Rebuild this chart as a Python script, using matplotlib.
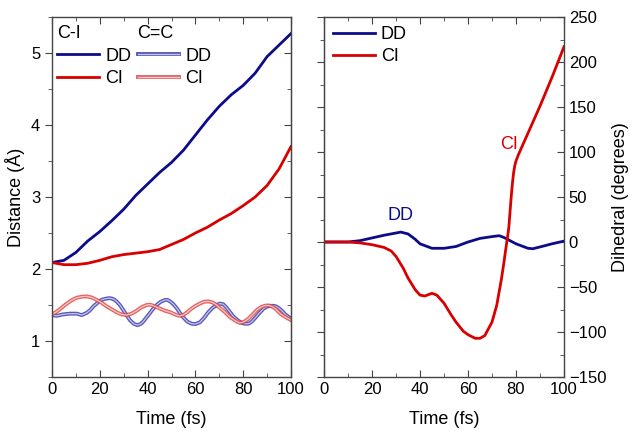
import matplotlib
matplotlib.use("Agg")
import matplotlib.pyplot as plt
import matplotlib.patheffects as pe
from matplotlib.ticker import MultipleLocator

plt.rcParams["font.family"] = ["Liberation Sans", "DejaVu Sans"]

NAVY = "#0c0c8a"
RED = "#d80000"
BLUE_CC = "#3c3cae"
RED_CC = "#e04848"

# C-I distance (Angstrom) vs time (fs)
t_ci = [0, 5, 10, 15, 20, 25, 30, 35, 40, 45, 50, 55, 60, 65, 70, 75, 80, 85, 90, 95, 100]
dd_ci = [2.09, 2.12, 2.23, 2.39, 2.52, 2.67, 2.83, 3.02, 3.18, 3.34, 3.48,
         3.65, 3.86, 4.07, 4.26, 4.42, 4.55, 4.72, 4.95, 5.11, 5.27]
ci_ci = [2.09, 2.06, 2.06, 2.08, 2.12, 2.17, 2.20, 2.22, 2.24, 2.27, 2.34,
         2.41, 2.50, 2.58, 2.68, 2.77, 2.88, 3.00, 3.16, 3.39, 3.70]

# C=C distance, DD trajectory
t_cc_dd = [0, 2, 4.7, 7.5, 10.3, 12.4, 14.5, 16, 17.3, 18.7, 20, 21.5, 22.9, 24,
           25, 26, 27, 28.4, 29.8, 31.2, 32.6, 34.2, 35.7, 37, 38.2, 39.6, 41,
           42.4, 43.8, 45.5, 47.3, 48.4, 49.4, 50.8, 52.1, 53.5, 54.9, 56.6, 58.4,
           60, 61.9, 63.6, 65.4, 67.2, 68.9, 70.3, 71.7, 73.1, 74.5, 75.9, 77.6,
           79.4, 80.8, 82.2, 83.6, 85, 86.8, 88.5, 90.2, 92, 93.4, 94.8, 96.2,
           97.6, 100]
cc_dd = [1.36, 1.35, 1.37, 1.38, 1.38, 1.36, 1.39, 1.43, 1.48, 1.52, 1.56, 1.58,
         1.59, 1.595, 1.59, 1.575, 1.55, 1.50, 1.43, 1.36, 1.29, 1.24, 1.22, 1.235,
         1.27, 1.33, 1.39, 1.45, 1.50, 1.545, 1.57, 1.57, 1.55, 1.51, 1.46, 1.39,
         1.33, 1.27, 1.24, 1.235, 1.26, 1.32, 1.40, 1.46, 1.50, 1.52, 1.51, 1.46,
         1.40, 1.34, 1.29, 1.25, 1.24, 1.24, 1.27, 1.32, 1.39, 1.45, 1.48, 1.49,
         1.485, 1.46, 1.42, 1.37, 1.31]

# C=C distance, CI trajectory
t_cc_ci = [0, 1.6, 3.3, 5.4, 7.5, 9, 10.3, 12.4, 14.5, 16.6, 18.7, 20.8, 22.9,
           25, 27, 29, 31.2, 33.3, 35.4, 37.5, 39.6, 41, 42.4, 45.2, 47.3, 49.4,
           52.1, 53.5, 54.9, 56.6, 58.4, 60.2, 61.9, 63.6, 65.4, 67.2, 68.9, 70.6,
           72.4, 74.2, 75.9, 77.3, 78.7, 80.5, 82.2, 84, 85.7, 87.4, 89.1, 90.5,
           92, 93.8, 95.5, 97.8, 100]
cc_ci = [1.37, 1.40, 1.44, 1.50, 1.55, 1.58, 1.60, 1.615, 1.62, 1.605, 1.57,
         1.53, 1.48, 1.44, 1.40, 1.37, 1.36, 1.38, 1.42, 1.47, 1.50, 1.505, 1.49,
         1.45, 1.42, 1.40, 1.36, 1.35, 1.36, 1.40, 1.45, 1.49, 1.52, 1.545, 1.55,
         1.535, 1.50, 1.45, 1.40, 1.34, 1.30, 1.27, 1.25, 1.27, 1.31, 1.37, 1.43,
         1.47, 1.49, 1.495, 1.48, 1.44, 1.38, 1.33, 1.29]

# dihedral (degrees) vs time (fs)
t_dih_dd = [0, 10, 15, 20, 25, 30, 32, 35, 38, 40, 45, 50, 55, 60, 65, 70, 73,
            75, 80, 85, 87, 90, 95, 100]
dih_dd = [0, 0, 1.5, 4.5, 7.5, 10, 11, 9, 3, -2, -7, -7, -5, 0, 4, 6, 7, 5, -2,
          -7, -7.5, -5.5, -2, 1]
t_dih_ci = [0, 10, 15, 20, 25, 28, 30, 33, 35, 38, 40, 42, 45, 47, 50, 53, 55,
            58, 60, 63, 65, 67, 70, 72, 74, 75, 76, 76.5, 77, 77.5, 78, 78.5, 79,
            79.5, 80, 81, 82, 85, 90, 95, 100]
dih_ci = [0, 0, -1, -3, -6, -10, -16, -29, -40, -53, -59, -60, -57, -59, -68,
          -81, -89, -99, -103, -107, -107, -104, -89, -70, -40, -22, -3, 6, 16,
          33, 50, 65, 77, 85, 90, 97, 103, 121, 151, 183, 217]

fig = plt.figure(figsize=(6.33, 4.34), dpi=100)
ax1 = fig.add_axes([52 / 633, 57 / 434, 239 / 633, 360 / 434])
ax2 = fig.add_axes([324 / 633, 57 / 434, 240 / 633, 360 / 434])


def hollow(color):
    return [pe.Stroke(linewidth=2.8, foreground=color, alpha=0.85), pe.Normal()]


# left panel
h_dd, = ax1.plot(t_ci, dd_ci, color=NAVY, lw=2, label="DD")
h_ci, = ax1.plot(t_ci, ci_ci, color=RED, lw=2, label="CI")
h_cdd, = ax1.plot(t_cc_dd, cc_dd, color="white", lw=0.9, alpha=0.65,
                  path_effects=hollow(BLUE_CC), label="DD")
h_cci, = ax1.plot(t_cc_ci, cc_ci, color="white", lw=0.9, alpha=0.65,
                  path_effects=hollow(RED_CC), label="CI")
ax1.set_xlim(0, 100)
ax1.set_ylim(0.5, 5.5)
ax1.yaxis.set_major_locator(MultipleLocator(1))
ax1.yaxis.set_minor_locator(MultipleLocator(0.5))
ax1.set_ylabel("Distance (Å)", fontsize=13, labelpad=4)
ax1.legend(handles=[h_dd, h_ci, h_cdd, h_cci], ncol=2, loc="upper left",
           bbox_to_anchor=(0.0, 0.93), frameon=False, fontsize=13,
           handlelength=2.3, handletextpad=0.35, columnspacing=0.35,
           labelspacing=0.3, borderaxespad=0.1, borderpad=0.2)
ax1.text(0.02, 0.955, "C-I", transform=ax1.transAxes, fontsize=13, va="center")
ax1.text(0.355, 0.955, "C=C", transform=ax1.transAxes, fontsize=13, va="center")

# right panel
h2_dd, = ax2.plot(t_dih_dd, dih_dd, color=NAVY, lw=2, label="DD")
h2_ci, = ax2.plot(t_dih_ci, dih_ci, color=RED, lw=2, label="CI")
ax2.set_xlim(0, 100)
ax2.set_ylim(-150, 250)
ax2.yaxis.set_major_locator(MultipleLocator(50))
ax2.yaxis.set_minor_locator(MultipleLocator(25))
ax2.yaxis.set_label_position("right")
ax2.set_ylabel("Dihedral (degrees)", fontsize=13, labelpad=4)
ax2.legend(loc="upper left", frameon=False, fontsize=13, handlelength=2.3,
           handletextpad=0.35, labelspacing=0.3, borderaxespad=0.3, borderpad=0.2)
ax2.text(32, 29, "DD", color=NAVY, fontsize=13, ha="center", va="center")
ax2.text(77, 108, "CI", color=RED, fontsize=13, ha="center", va="center")

for ax in (ax1, ax2):
    ax.xaxis.set_major_locator(MultipleLocator(20))
    ax.xaxis.set_minor_locator(MultipleLocator(10))
    ax.set_xlabel("Time (fs)", fontsize=13, labelpad=10)
    for s in ax.spines.values():
        s.set_color("#444444")
        s.set_linewidth(1.0)
    ax.tick_params(axis="x", which="both", bottom=True, top=True, direction="in",
                   colors="#444444", labelcolor="black", labelsize=12)
    ax.tick_params(axis="x", which="major", length=5)
    ax.tick_params(axis="x", which="minor", length=3)
    ax.tick_params(axis="y", which="both", colors="#444444", labelcolor="black",
                   labelsize=12)
    ax.tick_params(axis="y", which="major", length=5)
    ax.tick_params(axis="y", which="minor", length=3)

# left panel: outward ticks on left, inward on right
ax1.tick_params(axis="y", which="both", left=True, right=False, direction="out")
ax1r = ax1.secondary_yaxis("right")
ax1r.yaxis.set_major_locator(MultipleLocator(1))
ax1r.yaxis.set_minor_locator(MultipleLocator(0.5))
ax1r.tick_params(which="both", direction="in", labelright=False, colors="#444444")
ax1r.tick_params(which="major", length=5)
ax1r.tick_params(which="minor", length=3)
ax1r.spines["right"].set_color("#444444")

# right panel: labels on right, inward ticks; outward ticks on left spine
ax2.tick_params(axis="y", which="both", left=False, right=True, labelleft=False,
                labelright=True, direction="in")
ax2l = ax2.secondary_yaxis("left")
ax2l.yaxis.set_major_locator(MultipleLocator(50))
ax2l.yaxis.set_minor_locator(MultipleLocator(25))
ax2l.tick_params(which="both", direction="out", labelleft=False, colors="#444444")
ax2l.tick_params(which="major", length=5)
ax2l.tick_params(which="minor", length=3)
ax2l.spines["left"].set_color("#444444")

fig.savefig("out.png", dpi=100)
